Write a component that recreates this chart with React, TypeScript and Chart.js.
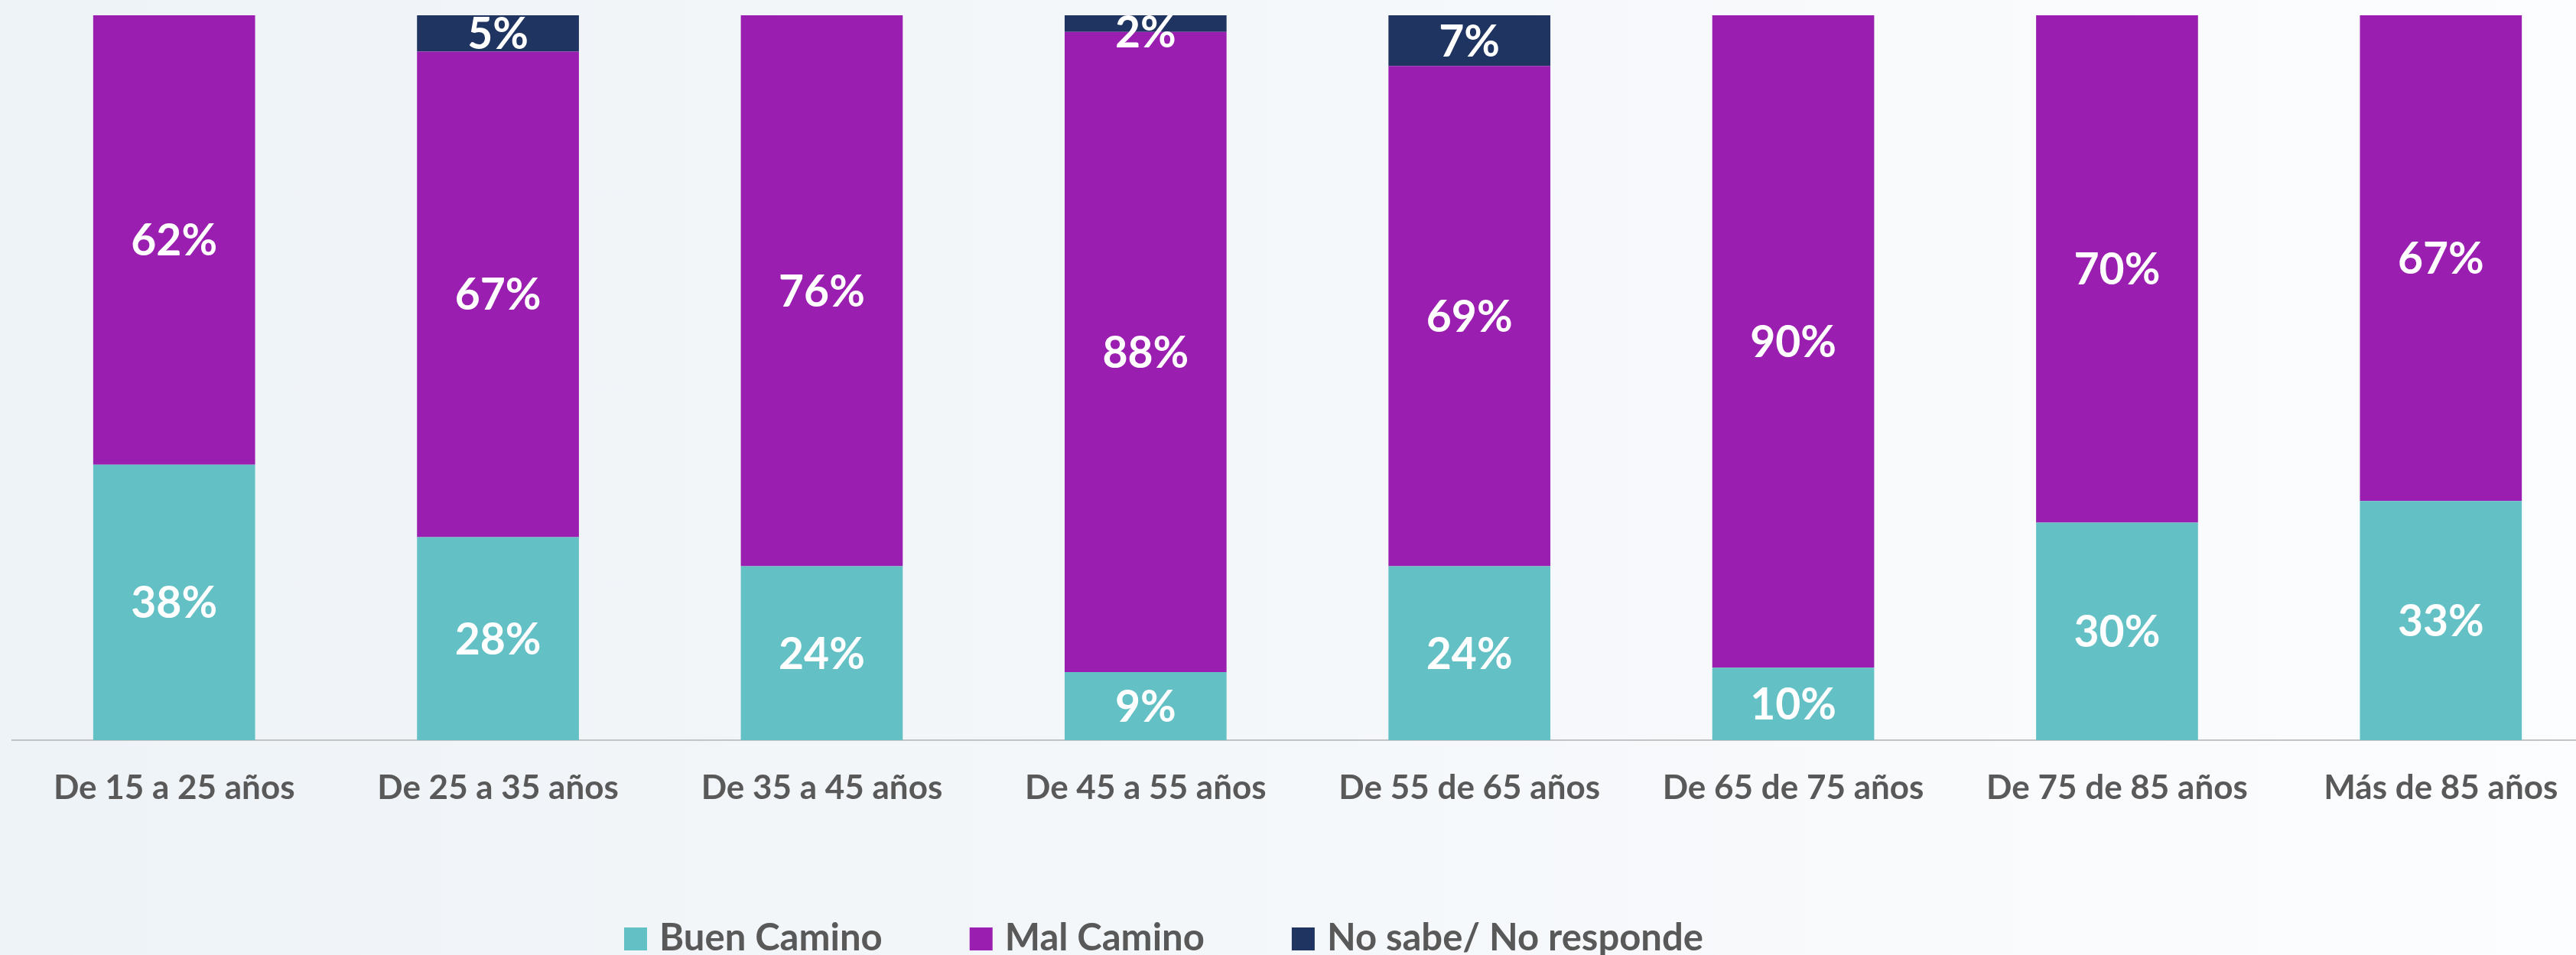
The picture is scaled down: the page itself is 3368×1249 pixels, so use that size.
import React, { useEffect, useRef } from "react";
import { Chart, registerables } from "chart.js";

Chart.register(...registerables);

const categories = [
  "De 15 a 25 años",
  "De 25 a 35 años",
  "De 35 a 45 años",
  "De 45 a 55 años",
  "De 55 de 65 años",
  "De 65 de 75 años",
  "De 75 de 85 años",
  "Más de 85 años",
];
const buenCamino = [38, 28, 24, 9.4, 24, 10, 30, 33];
const malCamino = [62, 67, 76, 88.3, 69, 90, 70, 67];
const noSabe = [0, 5, 0, 2.3, 7, 0, 0, 0];
const seriesNames = ["Buen Camino", "Mal Camino", "No sabe/ No responde"];
const seriesColors = ["#63C0C4", "#9A1FB0", "#1F3461"];

const W = 3420;
const H = 1249;

const labelPlugin = {
  id: "segLabels",
  afterDatasetsDraw(chart: any) {
    const ctx = chart.ctx;
    const top = chart.chartArea.top;
    ctx.save();
    ctx.font = "bold 57px Lato";
    ctx.fillStyle = "#ffffff";
    ctx.textAlign = "center";
    ctx.textBaseline = "middle";
    chart.data.datasets.forEach((ds: any, di: number) => {
      const meta = chart.getDatasetMeta(di);
      meta.data.forEach((bar: any, i: number) => {
        const v = ds.data[i] as number;
        if (!v) return;
        const p = bar.getProps(["x", "y", "base"], true);
        let cy = (p.y + p.base) / 2;
        cy = Math.max(cy, top + 22);
        ctx.fillText(Math.round(v) + "%", p.x, cy + 2);
      });
    });
    ctx.restore();
  },
};

const legendPlugin = {
  id: "customLegend",
  afterDraw(chart: any) {
    const ctx = chart.ctx;
    const box = 30;
    const gap = 16;
    const spacing = 114;
    const startX = 816;
    const boxTop = 1213;
    ctx.save();
    ctx.font = "bold 49px Lato";
    ctx.textBaseline = "alphabetic";
    ctx.textAlign = "left";
    let x = startX;
    chart.data.datasets.forEach((ds: any) => {
      ctx.fillStyle = ds.backgroundColor;
      ctx.fillRect(x, boxTop, box, box);
      ctx.fillStyle = "#595959";
      ctx.fillText(ds.label, x + box + gap, boxTop + box);
      x += box + gap + ctx.measureText(ds.label).width + spacing;
    });
    ctx.restore();
  },
};

export default function App() {
  const canvasRef = useRef<HTMLCanvasElement | null>(null);

  useEffect(() => {
    let chart: Chart | null = null;
    let cancelled = false;
    const make = () => {
      if (cancelled || !canvasRef.current) return;
      chart = new Chart(canvasRef.current, {
        type: "bar",
        data: {
          labels: categories,
          datasets: [
            { label: seriesNames[0], data: buenCamino, backgroundColor: seriesColors[0] },
            { label: seriesNames[1], data: malCamino, backgroundColor: seriesColors[1] },
            { label: seriesNames[2], data: noSabe, backgroundColor: seriesColors[2] },
          ],
        },
        options: {
          animation: false,
          responsive: false,
          devicePixelRatio: 1,
          layout: { padding: { left: 16, right: 17, top: 20, bottom: 0 } },
          datasets: { bar: { categoryPercentage: 1, barPercentage: 0.5, borderWidth: 0 } },
          plugins: { legend: { display: false }, tooltip: { enabled: false } },
          scales: {
            x: {
              stacked: true,
              offset: true,
              grid: { display: false, drawTicks: false },
              border: { display: true, color: "#C3C3C3", width: 2 },
              ticks: {
                color: "#595959",
                font: { family: "Lato", weight: "bold", size: 44 },
                padding: 36,
                maxRotation: 0,
                autoSkip: false,
              },
              afterFit: (s: any) => {
                s.height = H - 968;
              },
            },
            y: { stacked: true, min: 0, max: 100, display: false },
          },
        },
        plugins: [labelPlugin, legendPlugin],
      } as any);
    };
    const fonts = (document as any).fonts;
    if (fonts && fonts.load) {
      Promise.all([
        fonts.load("bold 57px Lato"),
        fonts.load("bold 44px Lato"),
        fonts.load("bold 49px Lato"),
      ])
        .catch(() => {})
        .then(make);
    } else {
      make();
    }
    return () => {
      cancelled = true;
      if (chart) chart.destroy();
    };
  }, []);

  return (
    <div
      style={{
        position: "fixed",
        left: 0,
        top: 0,
        width: W,
        height: H,
        background: "linear-gradient(to right, #EEF3F7 0%, #F4F7FA 45%, #FCFDFE 100%)",
      }}
    >
      <canvas ref={canvasRef} width={W} height={H} style={{ display: "block" }} />
    </div>
  );
}
